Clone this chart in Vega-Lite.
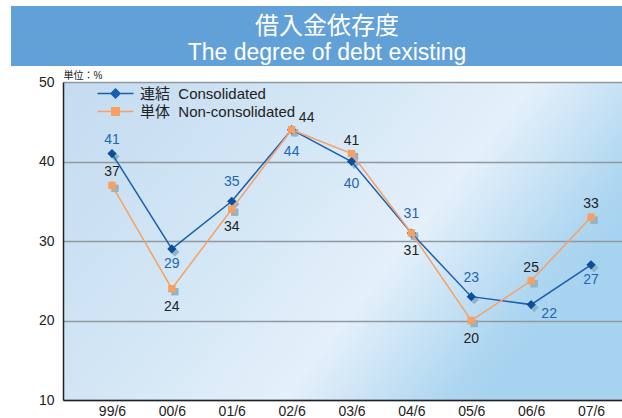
{
  "$schema": "https://vega.github.io/schema/vega-lite/v6.json",
  "padding": {"left": 11, "top": 6, "right": 0, "bottom": 0},
  "background": "#ffffff",
  "columns": 2,
  "align": "each",
  "bounds": "flush",
  "spacing": {"row": 16, "column": 0},
  "config": {"font": "Liberation Sans, Noto Sans CJK JP", "view": {"stroke": null}},
  "datasets": {
    "banner": [
      {"line": 1, "text": "借入金依存度"},
      {"line": 2, "text": "The degree of debt existing"}
    ],
    "debt": [
      {"period": "99/6", "series": "連結\u00a0\u00a0Consolidated", "value": 41},
      {"period": "00/6", "series": "連結\u00a0\u00a0Consolidated", "value": 29},
      {"period": "01/6", "series": "連結\u00a0\u00a0Consolidated", "value": 35},
      {"period": "02/6", "series": "連結\u00a0\u00a0Consolidated", "value": 44},
      {"period": "03/6", "series": "連結\u00a0\u00a0Consolidated", "value": 40},
      {"period": "04/6", "series": "連結\u00a0\u00a0Consolidated", "value": 31},
      {"period": "05/6", "series": "連結\u00a0\u00a0Consolidated", "value": 23},
      {"period": "06/6", "series": "連結\u00a0\u00a0Consolidated", "value": 22},
      {"period": "07/6", "series": "連結\u00a0\u00a0Consolidated", "value": 27},
      {"period": "99/6", "series": "単体\u00a0\u00a0Non-consolidated", "value": 37},
      {"period": "00/6", "series": "単体\u00a0\u00a0Non-consolidated", "value": 24},
      {"period": "01/6", "series": "単体\u00a0\u00a0Non-consolidated", "value": 34},
      {"period": "02/6", "series": "単体\u00a0\u00a0Non-consolidated", "value": 44},
      {"period": "03/6", "series": "単体\u00a0\u00a0Non-consolidated", "value": 41},
      {"period": "04/6", "series": "単体\u00a0\u00a0Non-consolidated", "value": 31},
      {"period": "05/6", "series": "単体\u00a0\u00a0Non-consolidated", "value": 20},
      {"period": "06/6", "series": "単体\u00a0\u00a0Non-consolidated", "value": 25},
      {"period": "07/6", "series": "単体\u00a0\u00a0Non-consolidated", "value": 33}
    ]
  },
  "concat": [
    {
      "width": 52,
      "height": 60,
      "view": {"fill": "#62a0d8", "stroke": null},
      "data": {"values": [{"t": ""}]},
      "mark": {"type": "text"},
      "encoding": {"text": {"field": "t"}}
    },
    {
      "width": 560,
      "height": 60,
      "view": {"fill": "#62a0d8", "stroke": null},
      "data": {"name": "banner"},
      "layer": [
        {
          "transform": [{"filter": "datum.line == 1"}],
          "mark": {"type": "text", "fontSize": 24, "color": "#ffffff", "dy": -9, "dx": -16, "font": "Noto Sans CJK JP"},
          "encoding": {"text": {"field": "text"}}
        },
        {
          "transform": [{"filter": "datum.line == 2"}],
          "mark": {"type": "text", "fontSize": 23, "color": "#ffffff", "dy": 17, "dx": -16},
          "encoding": {"text": {"field": "text"}}
        }
      ]
    },
    {
      "width": 52,
      "height": 318,
      "data": {"values": [{"t": ""}]},
      "mark": {"type": "text"},
      "encoding": {"text": {"field": "t"}}
    },
    {
      "width": 560,
      "height": 318,
      "view": {
        "stroke": null,
        "fill": {
          "gradient": "linear", "x1": 0, "y1": 0, "x2": 1, "y2": 0.45,
          "stops": [
            {"offset": 0, "color": "#c4dbf0"},
            {"offset": 0.4, "color": "#d2e6f5"},
            {"offset": 0.7, "color": "#e4f0fa"},
            {"offset": 0.95, "color": "#acd5f0"},
            {"offset": 1, "color": "#a8d3f0"}
          ]
        }
      },
      "data": {"name": "debt"},
      "encoding": {
        "x": {
          "field": "period", "type": "ordinal", "sort": null,
          "scale": {"type": "point", "padding": 0.676, "align": 0.605},
          "axis": {"title": null, "labelAngle": 0, "labelFontSize": 14, "labelColor": "#222222", "labelPadding": 4, "ticks": false, "domainColor": "#222222", "domainWidth": 1.5, "grid": false}
        },
        "y": {
          "field": "value", "type": "quantitative",
          "scale": {"domain": [10, 50], "nice": false, "zero": false},
          "axis": {"values": [10, 20, 30, 40, 50], "title": "単位：%", "titleAngle": 0, "titleAlign": "left", "titleBaseline": "alphabetic", "titleX": 0, "titleY": -4, "titleFontSize": 10, "titleFontWeight": "normal", "titleColor": "#222222", "labelFontSize": 14, "labelColor": "#222222", "labelPadding": 9, "ticks": false, "domainColor": "#222222", "domainWidth": 1.5, "grid": true, "gridColor": "#9098a0", "gridWidth": 1.5}
        }
      },
      "layer": [
        {
          "mark": {"type": "point", "shape": "diamond", "filled": true, "fill": "#8db4ca", "opacity": 1, "size": 85, "xOffset": 3, "yOffset": 3, "strokeWidth": 0},
          "transform": [{"filter": "indexof(datum.series, 'Non-') < 0"}]
        },
        {
          "mark": {"type": "point", "shape": "square", "filled": true, "fill": "#8db4ca", "opacity": 1, "size": 55, "xOffset": 3, "yOffset": 3, "strokeWidth": 0},
          "transform": [{"filter": "indexof(datum.series, 'Non-') >= 0"}]
        },
        {
          "mark": {"type": "line", "strokeWidth": 1.5},
          "encoding": {
            "color": {
              "field": "series", "type": "nominal",
              "scale": {"domain": ["連結\u00a0\u00a0Consolidated", "単体\u00a0\u00a0Non-consolidated"], "range": ["#1a5eae", "#f7a063"]},
              "legend": {
                "orient": "none", "legendX": 97, "legendY": 80, "title": null, "padding": 0,
                "symbolSize": 100, "labelOffset": 17, "labelFontSize": 15, "labelColor": "#222222",
                "rowPadding": 2, "labelLimit": 400, "symbolStrokeWidth": 1.5,
                "encode": {
                  "symbols": {
                    "update": {
                      "shape": {"signal": "indexof(datum.value, 'Non') >= 0 ? 'M-3.6,0H3.6M-0.75,-0.75H0.75V0.75H-0.75Z' : 'M-3.6,0H3.6M0,-0.9L0.9,0L0,0.9L-0.9,0Z'"},
                      "fill": {"scale": "color", "field": "value"},
                      "stroke": {"scale": "color", "field": "value"},
                      "strokeWidth": {"value": 1.5},
                      "opacity": {"value": 1}
                    }
                  }
                }
              }
            }
          }
        },
        {
          "mark": {"type": "point", "shape": "diamond", "filled": true, "fill": "#0b4e9e", "opacity": 1, "size": 85, "strokeWidth": 0},
          "transform": [{"filter": "indexof(datum.series, 'Non-') < 0"}]
        },
        {
          "mark": {"type": "point", "shape": "square", "filled": true, "fill": "#f8a062", "opacity": 1, "size": 55, "strokeWidth": 0},
          "transform": [{"filter": "indexof(datum.series, 'Non-') >= 0"}]
        },
        {
          "transform": [{"filter": "indexof(datum.series, 'Non-') < 0"}, {"filter": {"field": "period", "oneOf": ["01/6", "04/6", "05/6"]}}],
          "mark": {"type": "text", "fontSize": 14, "color": "#1f64b4", "baseline": "middle", "dy": -19},
          "encoding": {"text": {"field": "value"}}
        },
        {
          "transform": [{"filter": "indexof(datum.series, 'Non-') < 0"}, {"filter": {"field": "period", "oneOf": ["99/6"]}}],
          "mark": {"type": "text", "fontSize": 14, "color": "#1f64b4", "baseline": "middle", "dy": -14},
          "encoding": {"text": {"field": "value"}}
        },
        {
          "transform": [{"filter": "indexof(datum.series, 'Non-') < 0"}, {"filter": {"field": "period", "oneOf": ["02/6", "03/6"]}}],
          "mark": {"type": "text", "fontSize": 14, "color": "#1f64b4", "baseline": "middle", "dy": 22},
          "encoding": {"text": {"field": "value"}}
        },
        {
          "transform": [{"filter": "indexof(datum.series, 'Non-') < 0"}, {"filter": {"field": "period", "oneOf": ["00/6", "07/6"]}}],
          "mark": {"type": "text", "fontSize": 14, "color": "#1f64b4", "baseline": "middle", "dy": 15},
          "encoding": {"text": {"field": "value"}}
        },
        {
          "transform": [{"filter": "indexof(datum.series, 'Non-') < 0"}, {"filter": {"field": "period", "oneOf": ["06/6"]}}],
          "mark": {"type": "text", "fontSize": 14, "color": "#1f64b4", "baseline": "middle", "dx": 18, "dy": 9},
          "encoding": {"text": {"field": "value"}}
        },
        {
          "transform": [{"filter": "indexof(datum.series, 'Non-') >= 0"}, {"filter": {"field": "period", "oneOf": ["99/6", "03/6", "06/6", "07/6"]}}],
          "mark": {"type": "text", "fontSize": 14, "color": "#231f20", "baseline": "middle", "dy": -13},
          "encoding": {"text": {"field": "value"}}
        },
        {
          "transform": [{"filter": "indexof(datum.series, 'Non-') >= 0"}, {"filter": {"field": "period", "oneOf": ["00/6", "01/6", "04/6", "05/6"]}}],
          "mark": {"type": "text", "fontSize": 14, "color": "#231f20", "baseline": "middle", "dy": 18},
          "encoding": {"text": {"field": "value"}}
        },
        {
          "transform": [{"filter": "indexof(datum.series, 'Non-') >= 0"}, {"filter": {"field": "period", "oneOf": ["02/6"]}}],
          "mark": {"type": "text", "fontSize": 14, "color": "#231f20", "baseline": "middle", "dx": 15, "dy": -12},
          "encoding": {"text": {"field": "value"}}
        }
      ]
    }
  ]
}
